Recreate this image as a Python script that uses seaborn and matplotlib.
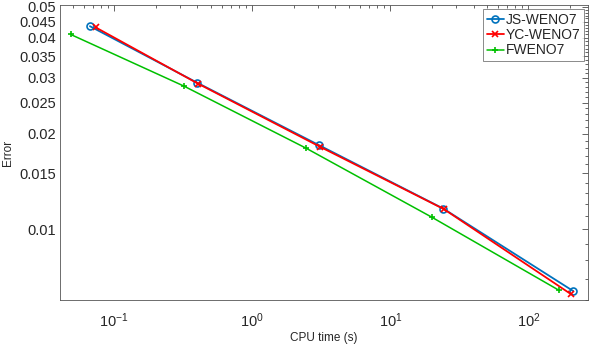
import pandas as pd
import numpy as np
import matplotlib
matplotlib.use("Agg")
import matplotlib.pyplot as plt
from matplotlib.ticker import FixedLocator, FixedFormatter, LogLocator, NullFormatter
import seaborn as sns

# CPU time (s) and error for each scheme
methods = ["JS-WENO7", "YC-WENO7", "FWENO7"]
cpu_js = [0.0667, 0.399, 3.06, 24.2, 211]
err_js = [0.0435, 0.0289, 0.01837, 0.01162, 0.0064]
cpu_yc = [0.0736, 0.405, 3.08, 24.4, 203]
err_yc = [0.0431, 0.0287, 0.0182, 0.01158, 0.00626]
cpu_f = [0.0483, 0.32, 2.45, 19.9, 167]
err_f = [0.0410, 0.0282, 0.0180, 0.01093, 0.00643]

ytick_vals = [0.01, 0.015, 0.02, 0.025, 0.03, 0.035, 0.04, 0.045, 0.05]
ytick_labels = ["0.01", "0.015", "0.02", "0.025", "0.03", "0.035", "0.04", "0.045", "0.05"]
xtick_vals = [0.1, 1, 10, 100]
xtick_labels = ["10$^{-1}$", "10$^{0}$", "10$^{1}$", "10$^{2}$"]

df = pd.concat([
    pd.DataFrame({"cpu": cpu_js, "err": err_js, "method": methods[0]}),
    pd.DataFrame({"cpu": cpu_yc, "err": err_yc, "method": methods[1]}),
    pd.DataFrame({"cpu": cpu_f, "err": err_f, "method": methods[2]}),
], ignore_index=True)

sns.set_style("white")
plt.rcParams["font.family"] = ["Liberation Sans", "DejaVu Sans"]
plt.rcParams["mathtext.fontset"] = "custom"
plt.rcParams["mathtext.rm"] = "Liberation Sans"
plt.rcParams["mathtext.default"] = "regular"

palette = {"JS-WENO7": "#0072BD", "YC-WENO7": "#FF0000", "FWENO7": "#00C000"}
markers = {"JS-WENO7": "o", "YC-WENO7": "x", "FWENO7": "+"}
widths = {"JS-WENO7": 1.3, "YC-WENO7": 1.3, "FWENO7": 1.1}

fig = plt.figure(figsize=(5.94, 3.45), dpi=100)
ax = fig.add_axes([0.101, 0.1304, 0.889, 0.855])

for m in methods:
    sub = df[df["method"] == m]
    sns.lineplot(data=sub, x="cpu", y="err", color=palette[m], marker=markers[m],
                 markersize=5, markerfacecolor="none", markeredgecolor=palette[m],
                 markeredgewidth=1.2, linewidth=widths[m], sort=False, label=m, ax=ax)

ax.set_xscale("log")
ax.set_yscale("log")
ax.set_xlim(0.0405, 270)
ax.set_ylim(0.006, 0.0507)

ax.xaxis.set_major_locator(FixedLocator(xtick_vals))
ax.xaxis.set_major_formatter(FixedFormatter(xtick_labels))
ax.xaxis.set_minor_locator(LogLocator(base=10, subs=np.arange(2, 10), numticks=20))
ax.xaxis.set_minor_formatter(NullFormatter())

ax.yaxis.set_major_locator(FixedLocator(ytick_vals))
ax.yaxis.set_major_formatter(FixedFormatter(ytick_labels))
minor_y = [v / 1000 for v in range(6, 51) if v % 5 != 0]
ax.yaxis.set_minor_locator(FixedLocator(minor_y))
ax.yaxis.set_minor_formatter(NullFormatter())

ax.tick_params(which="both", direction="in", top=True, right=True,
               colors="#262626", width=0.5)
ax.tick_params(axis="y", labelsize=10.5, pad=3)
ax.tick_params(axis="x", labelsize=10.5, pad=8)
ax.tick_params(which="major", length=4)
ax.tick_params(which="minor", length=2)
for s in ax.spines.values():
    s.set_color("#555555")
    s.set_linewidth(0.6)

ax.set_xlabel("CPU time (s)", fontsize=8.5)
ax.set_ylabel("Error", fontsize=8.5)
ax.yaxis.set_label_coords(-0.088, 0.5)
ax.xaxis.set_label_coords(0.5, -0.11)

leg = ax.legend(loc="upper right", fontsize=10, frameon=True, fancybox=False,
                borderaxespad=0.3, handlelength=1.2, handletextpad=0.15,
                borderpad=0.25, labelspacing=0.1)
leg.get_frame().set_edgecolor("#555555")
leg.get_frame().set_linewidth(0.6)

fig.savefig("out.png", dpi=100)
